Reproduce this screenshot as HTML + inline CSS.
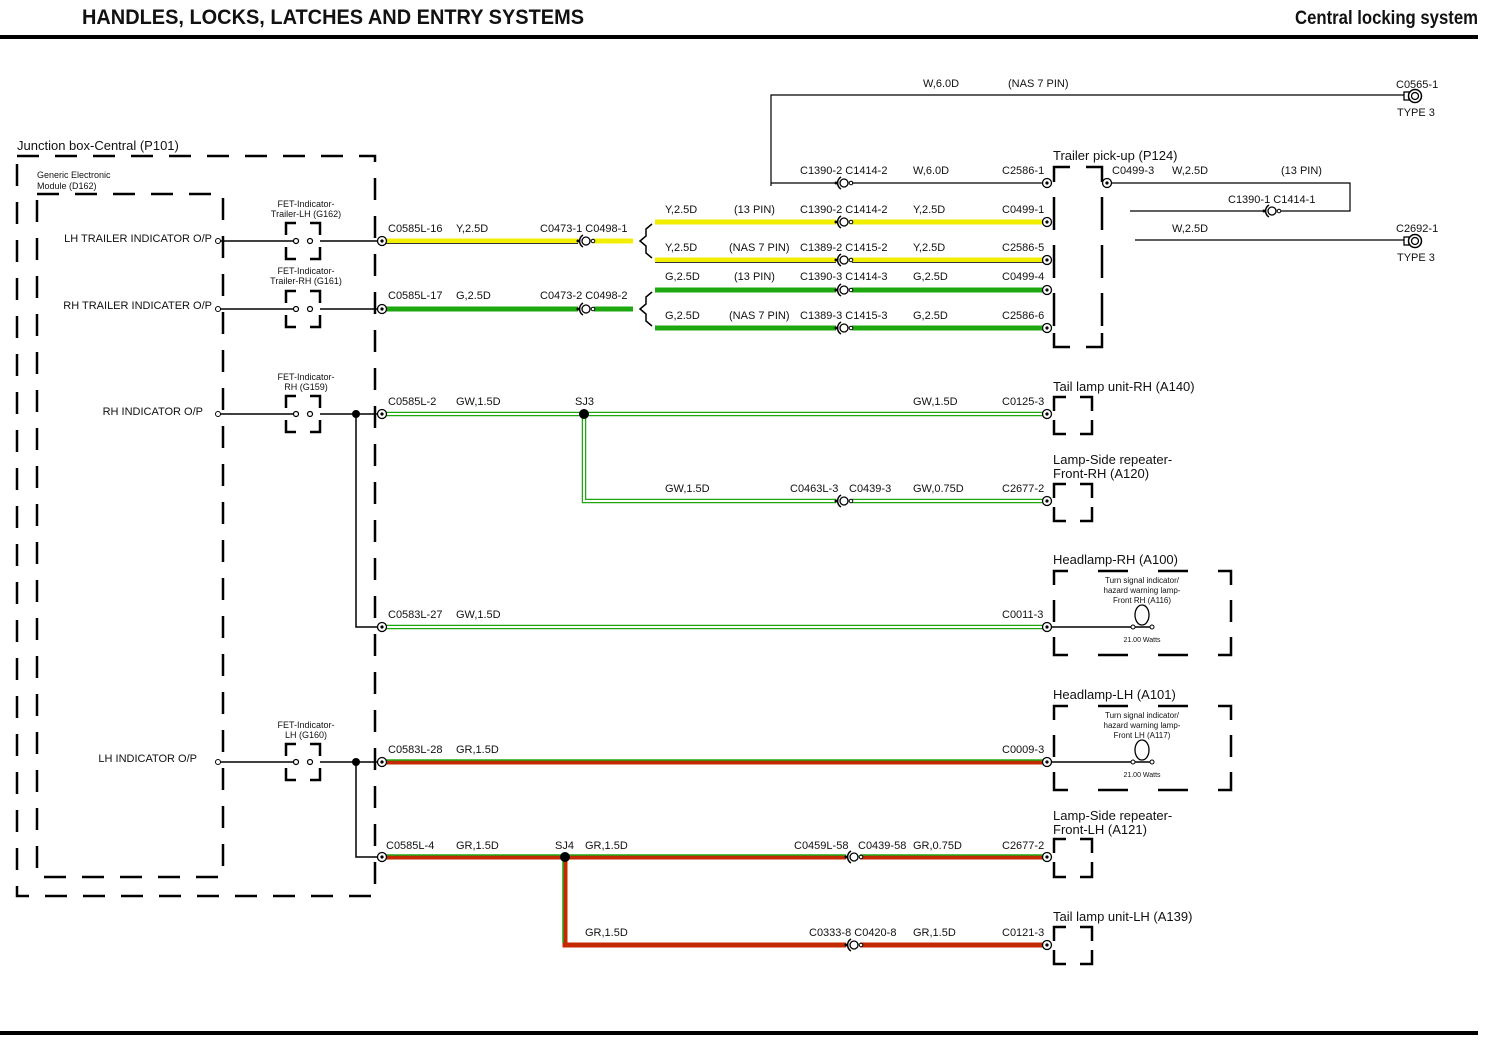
<!DOCTYPE html>
<html><head><meta charset="utf-8"><style>
html,body{margin:0;padding:0;background:#fff;}
svg{display:block;}
text{font-family:"Liberation Sans",sans-serif;font-size:11px;fill:#111;}
.h{font-family:"Liberation Sans Narrow","Liberation Sans",sans-serif;font-weight:bold;font-size:21px;}
.b{font-size:13px;}
.s{font-size:9px;}
.t{font-size:8px;}
.d{fill:none;stroke:#000;stroke-width:2.5;}
.w{stroke:#000;stroke-width:1.5;fill:none;}
</style></head><body>
<svg width="1500" height="1040" viewBox="0 0 1500 1040" xmlns="http://www.w3.org/2000/svg">
<defs>
<g id="c"><circle r="4.5" fill="#fff" stroke="#000" stroke-width="1.3"/><circle r="1.6" fill="#000"/></g>
<g id="ic"><path d="M-2,-6 A7,7 0 0 0 -2,6" fill="none" stroke="#000" stroke-width="1.5"/><circle cx="1" r="4" fill="#fff" stroke="#000" stroke-width="1.3"/><circle cx="-7" r="1.5" fill="#000"/><circle cx="8" r="1.8" fill="#fff" stroke="#000" stroke-width="1"/></g>
<g id="t3"><rect x="-9" y="-4" width="5" height="8" fill="#fff" stroke="#000" stroke-width="1.3"/><circle cx="2" r="6.5" fill="#fff" stroke="#000" stroke-width="1.5"/><circle cx="2" r="3.5" fill="#fff" stroke="#000" stroke-width="1.3"/></g>
<g id="fet"><path class="d" d="M-10,-6 V-18 H0 M14,-18 H24 V-6 M-10,6 V18 H0 M14,18 H24 V6"/><circle cx="0" r="2.5" fill="#fff" stroke="#000" stroke-width="1.2"/><circle cx="14" r="2.5" fill="#fff" stroke="#000" stroke-width="1.2"/></g>
</defs>

<!-- header -->
<text class="h" x="82" y="24" textLength="502" lengthAdjust="spacingAndGlyphs">HANDLES, LOCKS, LATCHES AND ENTRY SYSTEMS</text>
<text class="h" x="1295" y="24" textLength="183" lengthAdjust="spacingAndGlyphs" style="font-size:19px">Central locking system</text>
<rect x="0" y="35" width="1478" height="4" fill="#000"/>
<rect x="0" y="1031" width="1478" height="4" fill="#000"/>

<!-- junction boxes -->
<text class="b" x="17" y="150">Junction box-Central (P101)</text>
<rect class="d" x="17" y="156" width="358" height="740" stroke-dasharray="22 16"/>
<text class="s" x="37" y="178">Generic Electronic</text>
<text class="s" x="37" y="189">Module (D162)</text>
<rect class="d" x="37" y="194" width="186" height="683" stroke-dasharray="22 16"/>

<!-- Row LH trailer -->
<text x="212" y="242" text-anchor="end">LH TRAILER INDICATOR O/P</text>
<circle cx="218" cy="241" r="2.5" fill="#fff" stroke="#000"/>
<line class="w" x1="220" y1="241" x2="294" y2="241"/><line class="w" x1="320" y1="241" x2="378" y2="241"/>
<use href="#fet" x="296" y="241"/>
<text class="s" x="306" y="207" text-anchor="middle">FET-Indicator-</text>
<text class="s" x="306" y="217" text-anchor="middle">Trailer-LH (G162)</text>

<text x="212" y="309" text-anchor="end">RH TRAILER INDICATER O/P</text>
<circle cx="218" cy="309" r="2.5" fill="#fff" stroke="#000"/>
<line class="w" x1="220" y1="309" x2="294" y2="309"/><line class="w" x1="320" y1="309" x2="378" y2="309"/>
<use href="#fet" x="296" y="309"/>
<text class="s" x="306" y="274" text-anchor="middle">FET-Indicator-</text>
<text class="s" x="306" y="284" text-anchor="middle">Trailer-RH (G161)</text>

<!-- yellow wires -->
<g>
<line x1="385" y1="241" x2="578" y2="241" stroke="#f2ee00" stroke-width="5"/><line x1="385" y1="243.5" x2="578" y2="243.5" stroke="#333" stroke-width="1"/>
<line x1="594" y1="241" x2="633" y2="241" stroke="#f2ee00" stroke-width="5"/>
<line x1="655" y1="222" x2="836" y2="222" stroke="#f2ee00" stroke-width="5"/><line x1="852" y1="222" x2="1043" y2="222" stroke="#f2ee00" stroke-width="5"/>
<line x1="655" y1="260" x2="836" y2="260" stroke="#f2ee00" stroke-width="5"/><line x1="852" y1="260" x2="1043" y2="260" stroke="#f2ee00" stroke-width="5"/>
<line x1="655" y1="262.5" x2="836" y2="262.5" stroke="#333" stroke-width="1"/><line x1="852" y1="262.5" x2="1043" y2="262.5" stroke="#333" stroke-width="1"/>
</g>
<!-- green wires -->
<g stroke="#1ea810" stroke-width="5">
<line x1="385" y1="309" x2="578" y2="309"/><line x1="594" y1="309" x2="633" y2="309"/>
<line x1="655" y1="290" x2="836" y2="290"/><line x1="852" y1="290" x2="1043" y2="290"/>
<line x1="655" y1="328" x2="836" y2="328"/><line x1="852" y1="328" x2="1043" y2="328"/>
</g>
<path class="w" d="M652,224 L646,229 V236 L640,241 L646,246 V253 L652,258"/>
<path class="w" d="M652,292 L646,297 V304 L640,309 L646,314 V321 L652,326"/>
<use href="#c" x="382" y="241"/><use href="#c" x="382" y="309"/>
<use href="#ic" x="585" y="241"/><use href="#ic" x="585" y="309"/>
<use href="#ic" x="843" y="183"/><use href="#ic" x="843" y="222"/><use href="#ic" x="843" y="260"/><use href="#ic" x="843" y="290"/><use href="#ic" x="843" y="328"/>
<use href="#c" x="1047" y="183"/><use href="#c" x="1047" y="222"/><use href="#c" x="1047" y="260"/><use href="#c" x="1047" y="290"/><use href="#c" x="1047" y="328"/>
<text x="388" y="232">C0585L-16</text><text x="456" y="232">Y,2.5D</text><text x="540" y="232">C0473-1 C0498-1</text>
<text x="388" y="299">C0585L-17</text><text x="456" y="299">G,2.5D</text><text x="540" y="299">C0473-2 C0498-2</text>
<text x="665" y="213">Y,2.5D</text><text x="734" y="213">(13 PIN)</text><text x="800" y="213">C1390-2 C1414-2</text><text x="913" y="213">Y,2.5D</text><text x="1002" y="213">C0499-1</text>
<text x="665" y="251">Y,2.5D</text><text x="729" y="251">(NAS 7 PIN)</text><text x="800" y="251">C1389-2 C1415-2</text><text x="913" y="251">Y,2.5D</text><text x="1002" y="251">C2586-5</text>
<text x="665" y="280">G,2.5D</text><text x="734" y="280">(13 PIN)</text><text x="800" y="280">C1390-3 C1414-3</text><text x="913" y="280">G,2.5D</text><text x="1002" y="280">C0499-4</text>
<text x="665" y="319">G,2.5D</text><text x="729" y="319">(NAS 7 PIN)</text><text x="800" y="319">C1389-3 C1415-3</text><text x="913" y="319">G,2.5D</text><text x="1002" y="319">C2586-6</text>

<!-- W wires top -->
<path class="w" style="stroke-width:1.2" d="M771,186 V95 H1405"/>
<line class="w" style="stroke-width:1.2" x1="771" y1="183" x2="836" y2="183"/><line class="w" style="stroke-width:1.2" x1="852" y1="183" x2="1043" y2="183"/>
<text x="923" y="87">W,6.0D</text><text x="1008" y="87">(NAS 7 PIN)</text>
<use href="#t3" x="1413" y="96"/><text x="1396" y="88">C0565-1</text><text x="1397" y="116">TYPE 3</text>
<text x="800" y="174">C1390-2 C1414-2</text><text x="913" y="174">W,6.0D</text><text x="1002" y="174">C2586-1</text>
<text class="b" x="1053" y="160">Trailer pick-up (P124)</text>
<path class="d" d="M1054,182 V167 H1070 M1086,167 H1102 V182 M1054,197 V230 M1102,197 V230 M1054,245 V278 M1102,245 V278 M1054,293 V326 M1102,293 V326 M1054,333 V347 H1070 M1086,347 H1102 V333"/>
<use href="#c" x="1107" y="183"/>
<path class="w" style="stroke-width:1.2" d="M1111,183 H1350 V211 H1278"/>
<line class="w" style="stroke-width:1.2" x1="1130" y1="211" x2="1264" y2="211"/>
<use href="#ic" x="1271" y="211"/>
<text x="1112" y="174">C0499-3</text><text x="1172" y="174">W,2.5D</text><text x="1281" y="174">(13 PIN)</text>
<text x="1228" y="203">C1390-1 C1414-1</text>
<line class="w" style="stroke-width:1.2" x1="1135" y1="240" x2="1405" y2="240"/>
<text x="1172" y="232">W,2.5D</text>
<use href="#t3" x="1413" y="241"/><text x="1396" y="232">C2692-1</text><text x="1397" y="261">TYPE 3</text>

<!-- RH indicator -->
<text x="203" y="415" text-anchor="end">RH INDICATOR O/P</text>
<circle cx="218" cy="414" r="2.5" fill="#fff" stroke="#000"/>
<line class="w" x1="220" y1="414" x2="294" y2="414"/><line class="w" x1="320" y1="414" x2="378" y2="414"/>
<use href="#fet" x="296" y="414"/>
<text class="s" x="306" y="380" text-anchor="middle">FET-Indicator-</text>
<text class="s" x="306" y="390" text-anchor="middle">RH (G159)</text>
<path class="w" d="M356,414 V627 H378"/>
<circle cx="356" cy="414" r="4" fill="#000"/>
<g fill="none">
<path d="M385,414 H1043 M584,414 V501 H836 M852,501 H1043 M385,627 H1043" stroke="#1ea810" stroke-width="4.5"/>
<path d="M385,414 H1043 M584,414 V501 H836 M852,501 H1043 M385,627 H1043" stroke="#fff" stroke-width="2"/>
</g>
<circle cx="584" cy="414" r="5" fill="#000"/>
<use href="#c" x="382" y="414"/><use href="#c" x="1047" y="414"/><use href="#c" x="382" y="627"/><use href="#c" x="1047" y="627"/><use href="#c" x="1047" y="501"/>
<use href="#ic" x="843" y="501"/>
<text x="388" y="405">C0585L-2</text><text x="456" y="405">GW,1.5D</text><text x="575" y="405">SJ3</text><text x="913" y="405">GW,1.5D</text><text x="1002" y="405">C0125-3</text>
<text x="665" y="492">GW,1.5D</text><text x="790" y="492">C0463L-3</text><text x="849" y="492">C0439-3</text><text x="913" y="492">GW,0.75D</text><text x="1002" y="492">C2677-2</text>
<text x="388" y="618">C0583L-27</text><text x="456" y="618">GW,1.5D</text><text x="1002" y="618">C0011-3</text>

<!-- small boxes -->
<g class="d">
<path d="M1054,411 V397 H1066 M1080,397 H1092 V411 M1054,420 V434 H1066 M1080,434 H1092 V420"/>
<path d="M1054,498 V484 H1066 M1080,484 H1092 V498 M1054,507 V521 H1066 M1080,521 H1092 V507"/>
<path d="M1054,853 V839 H1066 M1080,839 H1092 V853 M1054,862 V877 H1066 M1080,877 H1092 V862"/>
<path d="M1054,941 V927 H1066 M1080,927 H1092 V941 M1054,950 V964 H1066 M1080,964 H1092 V950"/>
</g>
<text class="b" x="1053" y="391">Tail lamp unit-RH (A140)</text>
<text class="b" x="1053" y="464">Lamp-Side repeater-</text><text class="b" x="1053" y="478">Front-RH (A120)</text>
<text class="b" x="1053" y="820">Lamp-Side repeater-</text><text class="b" x="1053" y="834">Front-LH (A121)</text>
<text class="b" x="1053" y="921">Tail lamp unit-LH (A139)</text>

<!-- headlamp boxes -->
<path class="d" d="M1054,585 V571 H1068 M1098,571 H1128 M1158,571 H1188 M1218,571 H1231 V585 M1231,600 V622 M1231,637 V655 H1218 M1188,655 H1158 M1128,655 H1098 M1068,655 H1054 V637 M1054,600 V622"/>
<path class="d" d="M1054,720 V706 H1068 M1098,706 H1128 M1158,706 H1188 M1218,706 H1231 V720 M1231,735 V757 M1231,772 V790 H1218 M1188,790 H1158 M1128,790 H1098 M1068,790 H1054 V772 M1054,735 V757"/>
<text class="b" x="1053" y="564">Headlamp-RH (A100)</text>
<text class="b" x="1053" y="699">Headlamp-LH (A101)</text>
<text class="t" x="1142" y="583" text-anchor="middle">Turn signal indicator/</text>
<text class="t" x="1142" y="593" text-anchor="middle">hazard warning lamp-</text>
<text class="t" x="1142" y="603" text-anchor="middle">Front RH (A116)</text>
<text class="t" x="1142" y="642" text-anchor="middle" style="font-size:7px">21.00 Watts</text>
<line class="w" x1="1051" y1="627" x2="1131" y2="627"/><line class="w" x1="1135" y1="627" x2="1150" y2="627"/>
<ellipse cx="1142" cy="615" rx="7" ry="10" fill="none" stroke="#000" stroke-width="1.3"/>
<circle cx="1133" cy="627" r="2" fill="#fff" stroke="#000"/><circle cx="1152" cy="627" r="2" fill="#fff" stroke="#000"/>
<text class="t" x="1142" y="718" text-anchor="middle">Turn signal indicator/</text>
<text class="t" x="1142" y="728" text-anchor="middle">hazard warning lamp-</text>
<text class="t" x="1142" y="738" text-anchor="middle">Front LH (A117)</text>
<text class="t" x="1142" y="777" text-anchor="middle" style="font-size:7px">21.00 Watts</text>
<line class="w" x1="1051" y1="762" x2="1131" y2="762"/><line class="w" x1="1135" y1="762" x2="1150" y2="762"/>
<ellipse cx="1142" cy="750" rx="7" ry="10" fill="none" stroke="#000" stroke-width="1.3"/>
<circle cx="1133" cy="762" r="2" fill="#fff" stroke="#000"/><circle cx="1152" cy="762" r="2" fill="#fff" stroke="#000"/>

<!-- LH indicator -->
<text x="197" y="762" text-anchor="end">LH INDICATOR O/P</text>
<circle cx="218" cy="762" r="2.5" fill="#fff" stroke="#000"/>
<line class="w" x1="220" y1="762" x2="294" y2="762"/><line class="w" x1="320" y1="762" x2="378" y2="762"/>
<use href="#fet" x="296" y="762"/>
<text class="s" x="306" y="728" text-anchor="middle">FET-Indicator-</text>
<text class="s" x="306" y="738" text-anchor="middle">LH (G160)</text>
<path class="w" d="M356,762 V857 H378"/>
<circle cx="356" cy="762" r="4" fill="#000"/>
<g fill="none">
<path d="M385,762 H1043 M385,857 H846 M860,857 H1043 M565,857 V945 H846 M860,945 H1043" stroke="#c42a00" stroke-width="5"/>
<path d="M385,760 H1043 M385,855 H846 M860,855 H1043" stroke="#1ea810" stroke-width="1.5"/>
<path d="M563,859 V943" stroke="#1ea810" stroke-width="1.5"/>
</g>
<circle cx="565" cy="857" r="5" fill="#000"/>
<use href="#c" x="382" y="762"/><use href="#c" x="1047" y="762"/><use href="#c" x="382" y="857"/><use href="#c" x="1047" y="857"/><use href="#c" x="1047" y="945"/>
<use href="#ic" x="853" y="857"/><use href="#ic" x="853" y="945"/>
<text x="388" y="753">C0583L-28</text><text x="456" y="753">GR,1.5D</text><text x="1002" y="753">C0009-3</text>
<text x="386" y="849">C0585L-4</text><text x="456" y="849">GR,1.5D</text><text x="555" y="849">SJ4</text><text x="585" y="849">GR,1.5D</text><text x="794" y="849">C0459L-58</text><text x="858" y="849">C0439-58</text><text x="913" y="849">GR,0.75D</text><text x="1002" y="849">C2677-2</text>
<text x="585" y="936">GR,1.5D</text><text x="809" y="936">C0333-8 C0420-8</text><text x="913" y="936">GR,1.5D</text><text x="1002" y="936">C0121-3</text>
</svg>
</body></html>
